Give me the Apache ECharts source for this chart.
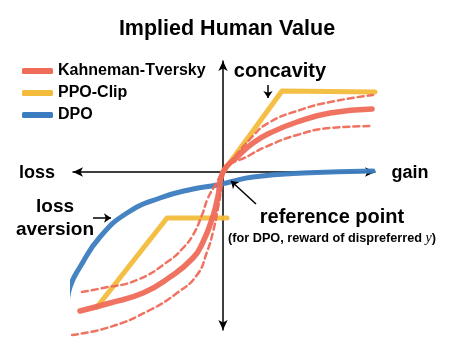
<!DOCTYPE html>
<html>
<head>
<meta charset="utf-8">
<script src="https://cdn.jsdelivr.net/npm/echarts@6/dist/echarts.min.js"></script>
<style>html,body{margin:0;padding:0;background:#fff}#c{width:453px;height:350px}</style>
</head>
<body>
<div id="c"></div>
<script>
// ---- data (x: gain(+)/loss(-), y: value) ----
const seriesNames = ['Kahneman-Tversky', 'PPO-Clip', 'DPO'];
const ktSolid = [[-143,-139],[-113,-131],[-80,-121],[-53,-105],[-30,-86],[-20,-70],[-10,-44],[-5,-24],[0,0],[14,15],[30,29],[47,39],[74,50],[107,59],[149,63]];
const ktDashedUpper = [[-141,-120],[-120,-116],[-86,-108],[-53,-88],[-40,-76],[-30,-63],[-21,-43],[-15,-26],[-6,-10],[0,0],[29,35],[47,50],[77,62],[107,70],[150,77]];
const ktDashedLower = [[-151,-163],[-113,-155],[-73,-138],[-46,-121],[-26,-103],[-16,-80],[-10,-60],[-5,-36],[-2,-18],[0,0],[27,17],[47,27],[74,37],[107,44],[150,46]];
const ppoGain = [[0,0],[59,81],[152,80]];
const ppoLoss = [[-126,-135],[-56,-46],[4,-46]];
const dpo = [[-156,-135],[-153,-115],[-143,-95],[-123,-65],[-96,-41],[-63,-26],[-30,-17],[-6,-13],[7,-10],[30,-5],[80,-1],[150,1]];
const axisLabels = { left: 'loss', right: 'gain' };

const RED = '#EF6C58', YEL = '#F2BC3A', BLUE = '#3B7CC0';
const FONT = '"Liberation Sans", Arial, Helvetica, sans-serif';

function line(name, data, color, width, dashed, smooth) {
  return {
    type: 'line', name: name, data: data, smooth: smooth,
    symbol: 'none', clip: false, silent: true,
    itemStyle: { color: color },
    lineStyle: { color: color, width: width, type: dashed ? [6, 4] : 'solid', cap: 'round', join: 'round', opacity: 0.95 }
  };
}

const chart = echarts.init(document.getElementById('c'), null, { renderer: 'canvas' });
const axisCommon = {
  type: 'value', axisTick: { show: false }, axisLabel: { show: false }, splitLine: { show: false },
  axisLine: { show: true, onZero: true, symbol: ['arrow', 'arrow'], symbolSize: [7, 10], lineStyle: { color: '#000', width: 1.5 } }
};
const annot = {
  type: 'line', name: 'annot', data: [], silent: true,
  markLine: {
    silent: true, symbol: ['none', 'arrow'], symbolSize: 7,
    label: { show: false },
    lineStyle: { color: '#000', width: 1.5, type: 'solid' },
    data: [
      [{ coord: [45, 87] }, { coord: [45, 74] }],
      [{ coord: [-130, -46] }, { coord: [-112, -46] }],
      [{ coord: [33, -32] }, { coord: [8, -9] }]
    ]
  }
};
chart.setOption({
  animation: false,
  title: { text: 'Implied Human Value', left: 222, top: 13, textAlign: 'center',
    textStyle: { fontFamily: FONT, fontWeight: 'bold', fontSize: 21.5, color: '#000' } },
  legend: {
    data: seriesNames, orient: 'vertical', left: 22, top: 63, itemGap: 6, padding: 0,
    icon: 'roundRect', itemWidth: 31, itemHeight: 6, itemTextGap: 8,
    textStyle: { fontFamily: FONT, fontWeight: 'bold', fontSize: 16, lineHeight: 15, color: '#000' }
  },
  grid: { left: 73, right: 78, top: 61, bottom: 20 },
  xAxis: Object.assign({}, axisCommon, { min: -150, max: 152 }),
  yAxis: Object.assign({}, axisCommon, { min: -158, max: 111 }),
  series: [
    line('PPO-Clip', ppoLoss, YEL, 5, false, false),
    line('PPO-Clip', ppoGain, YEL, 5, false, false),
    line('DPO', dpo, BLUE, 5, false, true),
    line('KT-upper', ktDashedUpper, RED, 2.5, true, true),
    line('KT-lower', ktDashedLower, RED, 2.5, true, true),
    line('Kahneman-Tversky', ktSolid, RED, 5.5, false, true),
    annot
  ],
  graphic: [
    { type: 'text', x: 280, y: 71, style: { text: 'concavity', fontFamily: FONT, fontWeight: 'bold', fontSize: 20, fill: '#000', align: 'center', verticalAlign: 'middle' } },
    { type: 'text', x: 37, y: 173, style: { text: axisLabels.left, fontFamily: FONT, fontWeight: 'bold', fontSize: 18, fill: '#000', align: 'center', verticalAlign: 'middle' } },
    { type: 'text', x: 410, y: 173, style: { text: axisLabels.right, fontFamily: FONT, fontWeight: 'bold', fontSize: 18, fill: '#000', align: 'center', verticalAlign: 'middle' } },
    { type: 'text', x: 55, y: 207, style: { text: 'loss', fontFamily: FONT, fontWeight: 'bold', fontSize: 19, fill: '#000', align: 'center', verticalAlign: 'middle' } },
    { type: 'text', x: 55, y: 230, style: { text: 'aversion', fontFamily: FONT, fontWeight: 'bold', fontSize: 19, fill: '#000', align: 'center', verticalAlign: 'middle' } },
    { type: 'text', x: 332, y: 217, style: { text: 'reference point', fontFamily: FONT, fontWeight: 'bold', fontSize: 20, fill: '#000', align: 'center', verticalAlign: 'middle' } },
    { type: 'text', x: 332, y: 238, style: {
        text: '(for DPO, reward of dispreferred {i|y})', fontFamily: FONT, fontWeight: 'bold', fontSize: 12.7, fill: '#000', align: 'center', verticalAlign: 'middle',
        rich: { i: { fontFamily: '"Liberation Serif", "DejaVu Serif", serif', fontStyle: 'italic', fontWeight: 'normal', fontSize: 14, fill: '#000' } } } }
  ]
});
</script>
</body>
</html>
